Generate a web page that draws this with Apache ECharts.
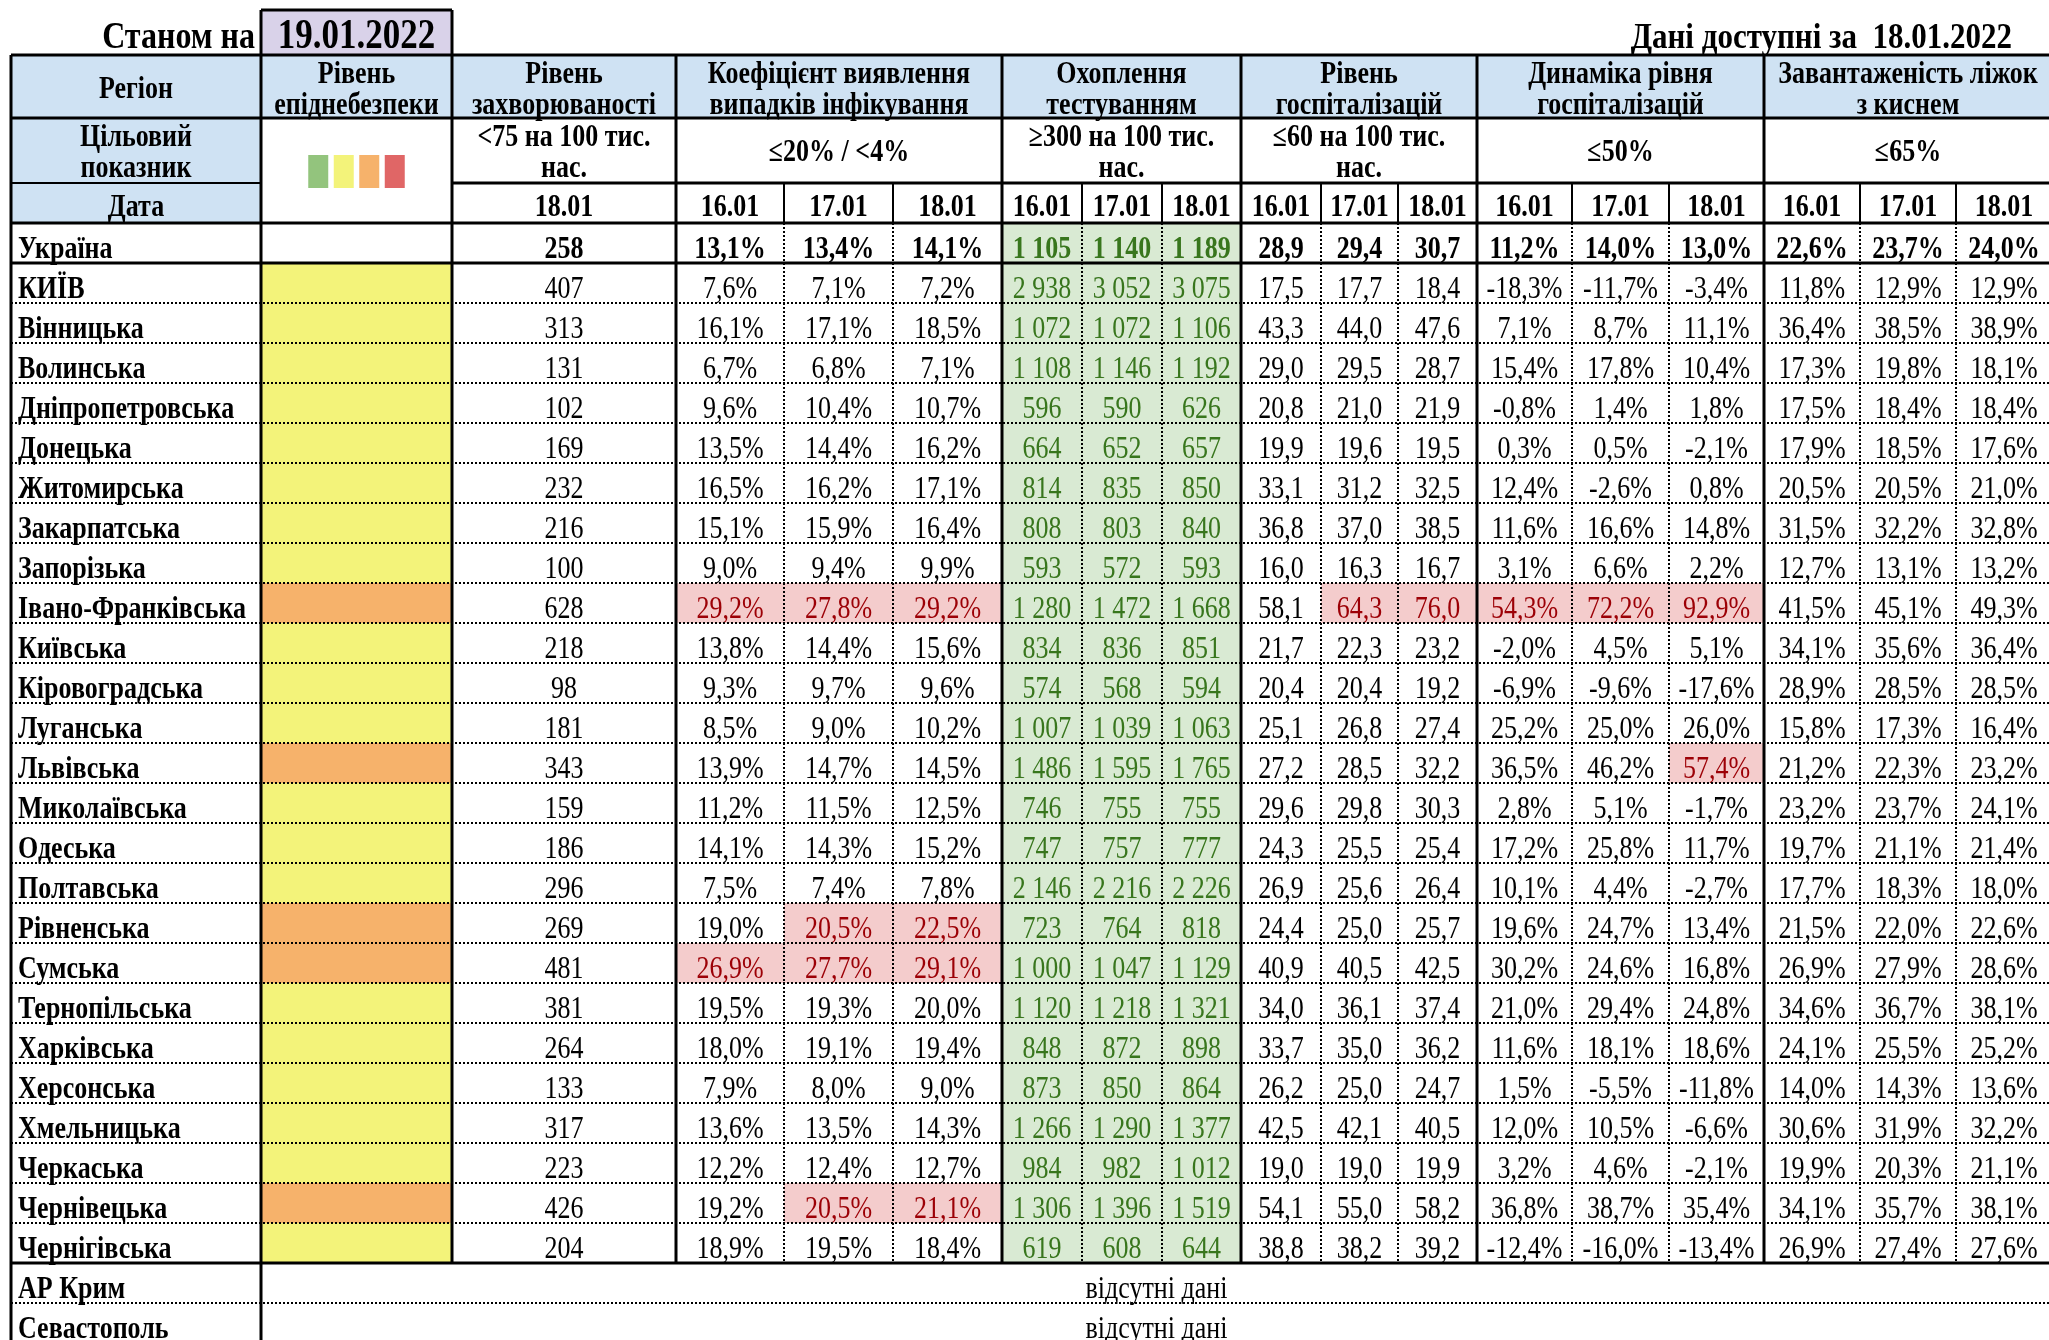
<!DOCTYPE html>
<html><head><meta charset="utf-8">
<script src="https://cdn.jsdelivr.net/npm/echarts@6/dist/echarts.min.js"></script>
<style>html,body{margin:0;padding:0;background:#fff}#c{width:2049px;height:1340px}</style>
</head><body><div id="c"></div>
<script>
// ---------------- DATA ----------------
const asOfLabel = 'Станом на';
const asOfDate = '19.01.2022';
const dataAvailLabel = 'Дані доступні за';
const dataAvailDate = '18.01.2022';
const groupTitles = ['Регіон', 'Рівень\nепіднебезпеки', 'Рівень\nзахворюваності', 'Коефіцієнт виявлення\nвипадків інфікування', 'Охоплення\nтестуванням', 'Рівень\nгоспіталізацій', 'Динаміка рівня\nгоспіталізацій', 'Завантаженість ліжок\nз киснем'];
const targets = ['Цільовий\nпоказник', '', '<75 на 100 тис.\nнас.', '≤20% / <4%', '≥300 на 100 тис.\nнас.', '≤60 на 100 тис.\nнас.', '≤50%', '≤65%'];
const dateLabel = 'Дата';
const incidenceDate = '18.01';
const dates = ['16.01', '17.01', '18.01'];
const levelLegend = ['green', 'yellow', 'orange', 'red'];

const regions = ['Україна', 'КИЇВ', 'Вінницька', 'Волинська', 'Дніпропетровська', 'Донецька', 'Житомирська', 'Закарпатська', 'Запорізька', 'Івано-Франківська', 'Київська', 'Кіровоградська', 'Луганська', 'Львівська', 'Миколаївська', 'Одеська', 'Полтавська', 'Рівненська', 'Сумська', 'Тернопільська', 'Харківська', 'Херсонська', 'Хмельницька', 'Черкаська', 'Чернівецька', 'Чернігівська'];
const epidLevel = ['', 'yellow', 'yellow', 'yellow', 'yellow', 'yellow', 'yellow', 'yellow', 'yellow', 'orange', 'yellow', 'yellow', 'yellow', 'orange', 'yellow', 'yellow', 'yellow', 'orange', 'orange', 'yellow', 'yellow', 'yellow', 'yellow', 'yellow', 'orange', 'yellow'];
const incidence = [258, 407, 313, 131, 102, 169, 232, 216, 100, 628, 218, 98, 181, 343, 159, 186, 296, 269, 481, 381, 264, 133, 317, 223, 426, 204];
const detection16 = [13.1, 7.6, 16.1, 6.7, 9.6, 13.5, 16.5, 15.1, 9.0, 29.2, 13.8, 9.3, 8.5, 13.9, 11.2, 14.1, 7.5, 19.0, 26.9, 19.5, 18.0, 7.9, 13.6, 12.2, 19.2, 18.9];
const detection17 = [13.4, 7.1, 17.1, 6.8, 10.4, 14.4, 16.2, 15.9, 9.4, 27.8, 14.4, 9.7, 9.0, 14.7, 11.5, 14.3, 7.4, 20.5, 27.7, 19.3, 19.1, 8.0, 13.5, 12.4, 20.5, 19.5];
const detection18 = [14.1, 7.2, 18.5, 7.1, 10.7, 16.2, 17.1, 16.4, 9.9, 29.2, 15.6, 9.6, 10.2, 14.5, 12.5, 15.2, 7.8, 22.5, 29.1, 20.0, 19.4, 9.0, 14.3, 12.7, 21.1, 18.4];
const testing16 = [1105, 2938, 1072, 1108, 596, 664, 814, 808, 593, 1280, 834, 574, 1007, 1486, 746, 747, 2146, 723, 1000, 1120, 848, 873, 1266, 984, 1306, 619];
const testing17 = [1140, 3052, 1072, 1146, 590, 652, 835, 803, 572, 1472, 836, 568, 1039, 1595, 755, 757, 2216, 764, 1047, 1218, 872, 850, 1290, 982, 1396, 608];
const testing18 = [1189, 3075, 1106, 1192, 626, 657, 850, 840, 593, 1668, 851, 594, 1063, 1765, 755, 777, 2226, 818, 1129, 1321, 898, 864, 1377, 1012, 1519, 644];
const hosp16 = [28.9, 17.5, 43.3, 29.0, 20.8, 19.9, 33.1, 36.8, 16.0, 58.1, 21.7, 20.4, 25.1, 27.2, 29.6, 24.3, 26.9, 24.4, 40.9, 34.0, 33.7, 26.2, 42.5, 19.0, 54.1, 38.8];
const hosp17 = [29.4, 17.7, 44.0, 29.5, 21.0, 19.6, 31.2, 37.0, 16.3, 64.3, 22.3, 20.4, 26.8, 28.5, 29.8, 25.5, 25.6, 25.0, 40.5, 36.1, 35.0, 25.0, 42.1, 19.0, 55.0, 38.2];
const hosp18 = [30.7, 18.4, 47.6, 28.7, 21.9, 19.5, 32.5, 38.5, 16.7, 76.0, 23.2, 19.2, 27.4, 32.2, 30.3, 25.4, 26.4, 25.7, 42.5, 37.4, 36.2, 24.7, 40.5, 19.9, 58.2, 39.2];
const hospDyn16 = [11.2, -18.3, 7.1, 15.4, -0.8, 0.3, 12.4, 11.6, 3.1, 54.3, -2.0, -6.9, 25.2, 36.5, 2.8, 17.2, 10.1, 19.6, 30.2, 21.0, 11.6, 1.5, 12.0, 3.2, 36.8, -12.4];
const hospDyn17 = [14.0, -11.7, 8.7, 17.8, 1.4, 0.5, -2.6, 16.6, 6.6, 72.2, 4.5, -9.6, 25.0, 46.2, 5.1, 25.8, 4.4, 24.7, 24.6, 29.4, 18.1, -5.5, 10.5, 4.6, 38.7, -16.0];
const hospDyn18 = [13.0, -3.4, 11.1, 10.4, 1.8, -2.1, 0.8, 14.8, 2.2, 92.9, 5.1, -17.6, 26.0, 57.4, -1.7, 11.7, -2.7, 13.4, 16.8, 24.8, 18.6, -11.8, -6.6, -2.1, 35.4, -13.4];
const oxygen16 = [22.6, 11.8, 36.4, 17.3, 17.5, 17.9, 20.5, 31.5, 12.7, 41.5, 34.1, 28.9, 15.8, 21.2, 23.2, 19.7, 17.7, 21.5, 26.9, 34.6, 24.1, 14.0, 30.6, 19.9, 34.1, 26.9];
const oxygen17 = [23.7, 12.9, 38.5, 19.8, 18.4, 18.5, 20.5, 32.2, 13.1, 45.1, 35.6, 28.5, 17.3, 22.3, 23.7, 21.1, 18.3, 22.0, 27.9, 36.7, 25.5, 14.3, 31.9, 20.3, 35.7, 27.4];
const oxygen18 = [24.0, 12.9, 38.9, 18.1, 18.4, 17.6, 21.0, 32.8, 13.2, 49.3, 36.4, 28.5, 16.4, 23.2, 24.1, 21.4, 18.0, 22.6, 28.6, 38.1, 25.2, 13.6, 32.2, 21.1, 38.1, 27.6];
const noDataRegions = ['АР Крим', 'Севастополь'];
const noDataText = 'відсутні дані';
// highlight thresholds (target limits)
const detectionLimit = 20, hospLimit = 60, hospDynLimit = 50;

// ---------------- LAYOUT / STYLE ----------------
const COL = [11, 261, 452, 676, 784, 893, 1002, 1082, 1162, 1241, 1321, 1398, 1477, 1572, 1669, 1764, 1860, 1956, 2052];
const Y_TITLE = 10, Y_H1 = 55, Y_H2 = 118, Y_H3 = 183, Y_BODY = 223, ROW_H = 40;
const FONT = '"Liberation Serif", "Times New Roman", serif';
const FS = 26, STRETCH = 1.18;
const C = {
  blue: '#cfe2f3', lav: '#d9d2e9', yellow: '#f3f37a', orange: '#f6b26b', green: '#93c47d', red: '#e06666',
  testBg: '#d9ead3', testFg: '#38761d', pinkBg: '#f4cccc', pinkFg: '#9c0006', ink: '#000'
};
const levelColor = {green: C.green, yellow: C.yellow, orange: C.orange, red: C.red};
const groupSpan = [[0,1],[1,2],[2,3],[3,6],[6,9],[9,12],[12,15],[15,18]];

const fmtPct = v => v.toFixed(1).replace('.', ',') + '%';
const fmtDec = v => v.toFixed(1).replace('.', ',');
const fmtThou = v => v >= 1000 ? Math.floor(v / 1000) + ' ' + String(v % 1000).padStart(3, '0') : String(v);

// ---------------- CELLS ----------------
const cells = [];
function cell(x0, x1, y0, y1, text, o) {
  cells.push(Object.assign({x0, x1, y0, y1, text, align: 'center', bold: false, color: C.ink, bg: null, size: FS, dy: 7, pad: 7, lh: 26}, o || {}));
}
// title row
cell(COL[0], COL[1] - 6, Y_TITLE, Y_H1, asOfLabel, {align: 'right', bold: true, size: 32, dy: 6});
cell(COL[1], COL[2], Y_TITLE, Y_H1, asOfDate, {bold: true, size: 35, bg: C.lav, dy: 5});
cell(1500, 2012, Y_TITLE, Y_H1, dataAvailLabel + '  ' + dataAvailDate, {align: 'right', bold: true, size: 31, dy: 6});
// header rows
groupSpan.forEach((s, g) => {
  cell(COL[s[0]], COL[s[1]], Y_H1, Y_H2, groupTitles[g], {bold: true, bg: C.blue, dy: 4});
  if (g === 0) {
    cell(COL[0], COL[1], Y_H2, Y_H3, targets[0], {bold: true, bg: C.blue, dy: 3});
    cell(COL[0], COL[1], Y_H3, Y_BODY, dateLabel, {bold: true, bg: C.blue, dy: 5});
  } else if (g === 1) {
    // legend swatches of the epidemic level
    const w = 20, gap = 5.5, total = levelLegend.length * w + (levelLegend.length - 1) * gap;
    const sx = (COL[1] + COL[2]) / 2 - total / 2, cy = (Y_H2 + Y_BODY) / 2 + 1;
    levelLegend.forEach((lv, i) => cell(sx + i * (w + gap), sx + i * (w + gap) + w, cy - 16.5, cy + 16.5, '', {bg: levelColor[lv]}));
  } else {
    cell(COL[s[0]], COL[s[1]], Y_H2, Y_H3, targets[g], {bold: true, dy: 3});
    if (g === 2) cell(COL[2], COL[3], Y_H3, Y_BODY, incidenceDate, {bold: true, dy: 5});
    else dates.forEach((d, i) => cell(COL[s[0] + i], COL[s[0] + i + 1], Y_H3, Y_BODY, d, {bold: true, dy: 5}));
  }
});
// body rows
const triples = [
  {cols: 3, vals: [detection16, detection17, detection18], fmt: fmtPct, limit: detectionLimit},
  {cols: 6, vals: [testing16, testing17, testing18], fmt: fmtThou, test: true},
  {cols: 9, vals: [hosp16, hosp17, hosp18], fmt: fmtDec, limit: hospLimit},
  {cols: 12, vals: [hospDyn16, hospDyn17, hospDyn18], fmt: fmtPct, limit: hospDynLimit},
  {cols: 15, vals: [oxygen16, oxygen17, oxygen18], fmt: fmtPct}
];
regions.forEach((name, r) => {
  const y0 = Y_BODY + r * ROW_H, y1 = y0 + ROW_H, b = r === 0;
  cell(COL[0], COL[1], y0, y1, name, {align: 'left', bold: true});
  cell(COL[1], COL[2], y0, y1, '', {bg: epidLevel[r] ? levelColor[epidLevel[r]] : null});
  cell(COL[2], COL[3], y0, y1, String(incidence[r]), {bold: b});
  triples.forEach(t => t.vals.forEach((arr, i) => {
    const v = arr[r];
    const hi = t.limit !== undefined && v > t.limit;
    cell(COL[t.cols + i], COL[t.cols + i + 1], y0, y1, t.fmt(v), {
      bold: b,
      bg: t.test ? C.testBg : (hi ? C.pinkBg : null),
      color: t.test ? C.testFg : (hi ? C.pinkFg : C.ink)
    });
  }));
});
const yNoData = Y_BODY + regions.length * ROW_H;
noDataRegions.forEach((name, i) => {
  const y0 = yNoData + i * ROW_H, y1 = y0 + ROW_H;
  cell(COL[0], COL[1], y0, y1, name, {align: 'left', bold: true});
  cell(COL[1], COL[18], y0, y1, noDataText, {});
});

// ---------------- LINES ----------------
const lines = [];
const THICK = 3, THIN = 2;
function hl(y, x0, x1, w, dot) { lines.push({x0, y0: y, x1, y1: y, w, dot}); }
function vl(x, y0, y1, w, dot) { lines.push({x0: x, y0, x1: x, y1, w, dot}); }
const yEnd = yNoData;
const yBottom = yNoData + noDataRegions.length * ROW_H;
hl(Y_TITLE, COL[1], COL[2], THICK); vl(COL[1], Y_TITLE, Y_H1, THICK); vl(COL[2], Y_TITLE, Y_H1, THICK);
hl(Y_H1, COL[0], COL[18], THICK);
hl(Y_H2, COL[0], COL[18], THICK);
hl(Y_H3, COL[0], COL[1], THIN); hl(Y_H3, COL[2], COL[18], THICK);
hl(Y_BODY, COL[0], COL[18], THICK);
hl(Y_BODY + ROW_H, COL[0], COL[18], THICK);
for (let r = 2; r < regions.length; r++) hl(Y_BODY + r * ROW_H, COL[0], COL[18], THIN, true);
hl(yEnd, COL[0], COL[18], THICK);
for (let i = 1; i < noDataRegions.length; i++) hl(yEnd + i * ROW_H, COL[0], COL[18], THIN, true);
vl(COL[0], Y_H1, yBottom, THICK);
vl(COL[1], Y_H1, yBottom, THICK);
[2, 3, 6, 9, 12, 15].forEach(c => vl(COL[c], Y_H1, yEnd, THICK));
[4, 5, 7, 8, 10, 11, 13, 14, 16, 17].forEach(c => { vl(COL[c], Y_H3, Y_BODY, THIN); vl(COL[c], Y_BODY, yEnd, THIN, true); });

// ---------------- CHART ----------------
const chart = echarts.init(document.getElementById('c'), null, {renderer: 'canvas'});
chart.setOption({
  animation: false,
  backgroundColor: '#fff',
  grid: {left: 0, right: 0, top: 0, bottom: 0},
  xAxis: {type: 'value', min: 0, max: 2049, show: false},
  yAxis: {type: 'value', min: 0, max: 1340, inverse: true, show: false},
  series: [
    {
      type: 'custom', clip: false, silent: true,
      data: cells.map(c => [(c.x0 + c.x1) / 2, (c.y0 + c.y1) / 2]),
      renderItem: (params, api) => {
        const c = cells[params.dataIndex];
        const p0 = api.coord([c.x0, c.y0]), p1 = api.coord([c.x1, c.y1]);
        const ch = [];
        if (c.bg) ch.push({type: 'rect', shape: {x: p0[0], y: p0[1], width: p1[0] - p0[0], height: p1[1] - p0[1]}, style: {fill: c.bg}});
        if (c.text) ch.push({type: 'text',
          x: c.align === 'left' ? p0[0] + c.pad : c.align === 'right' ? p1[0] : (p0[0] + p1[0]) / 2,
          y: (p0[1] + p1[1]) / 2 + c.dy,
          scaleY: STRETCH,
          style: {
            text: c.text, x: 0, y: 0,
            align: c.align, verticalAlign: 'middle',
            fontFamily: FONT, fontSize: c.size, fontWeight: c.bold ? 'bold' : 'normal',
            lineHeight: c.lh, fill: c.color
          }});
        return {type: 'group', children: ch};
      }
    },
    {
      type: 'custom', clip: false, silent: true, z: 5,
      data: lines.map(l => [(l.x0 + l.x1) / 2, (l.y0 + l.y1) / 2]),
      renderItem: (params, api) => {
        const l = lines[params.dataIndex];
        const a = api.coord([l.x0, l.y0]), b = api.coord([l.x1, l.y1]);
        return {type: 'line', shape: {x1: a[0], y1: a[1], x2: b[0], y2: b[1]},
          style: {stroke: '#000', lineWidth: l.w, lineDash: l.dot ? [2, 2] : null}};
      }
    }
  ]
});
</script></body></html>
